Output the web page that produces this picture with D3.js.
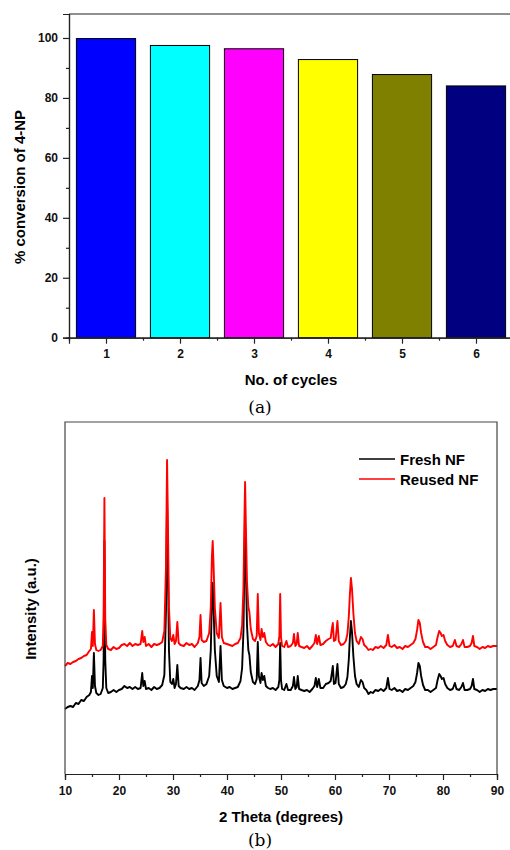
<!DOCTYPE html>
<html>
<head>
<meta charset="utf-8">
<script src="https://cdn.jsdelivr.net/npm/d3@7"></script>
<style>
  body { margin: 0; background: #fff; }
  svg { display: block; font-family: "Liberation Sans", Arial, sans-serif; }
</style>
</head>
<body>
<script>
// (a) recycling test
const cycles = [1, 2, 3, 4, 5, 6];
const conversion = [99.8, 97.5, 96.4, 92.8, 87.8, 84.0];
const barColors = ['#0000ff', '#00ffff', '#ff00ff', '#ffff00', '#808000', '#000080'];
const convTicks = [0, 20, 40, 60, 80, 100];

// (b) XRD patterns
const twoTheta = [
  10.0, 10.5, 11.0, 11.5, 12.0, 12.5, 13.0, 13.5, 14.0, 14.5, 14.8, 15.0, 15.15, 15.35, 15.55, 15.8,
  16.2, 16.6, 17.0, 17.15, 17.3, 17.45, 17.65, 18.0, 18.5, 19.0, 19.5, 20.0, 20.5, 21.0, 21.5, 22.0,
  22.5, 23.0, 23.5, 24.0, 24.3, 24.5, 24.75, 25.0, 25.5, 26.0, 26.5, 27.0, 27.5, 28.0, 28.4, 28.7,
  28.9, 29.05, 29.25, 29.5, 29.8, 30.05, 30.3, 30.55, 30.8, 31.05, 31.4, 32.0, 32.5, 33.0, 33.5, 34.0,
  34.6, 34.9, 35.1, 35.3, 35.7, 36.2, 36.7, 37.0, 37.2, 37.35, 37.5, 37.75, 38.1, 38.5, 38.8, 39.05,
  39.4, 40.0, 40.5, 41.0, 41.5, 42.0, 42.5, 42.8, 43.05, 43.2, 43.35, 43.5, 43.7, 43.95, 44.15, 44.4,
  44.8, 45.2, 45.5, 45.7, 45.9, 46.2, 46.4, 46.65, 46.9, 47.2, 47.6, 48.0, 48.5, 49.0, 49.5, 49.7,
  49.85, 50.0, 50.2, 50.6, 51.0, 51.3, 51.8, 52.2, 52.4, 52.65, 52.9, 53.1, 53.35, 53.8, 54.3, 54.8,
  55.3, 55.8, 56.2, 56.45, 56.7, 57.0, 57.3, 57.8, 58.3, 58.8, 59.2, 59.45, 59.6, 59.8, 60.1, 60.45,
  60.7, 61.1, 61.6, 62.0, 62.3, 62.55, 62.75, 62.95, 63.15, 63.4, 63.7, 64.0, 64.4, 64.8, 65.1, 65.4,
  65.8, 66.2, 66.6, 67.0, 67.5, 68.0, 68.5, 69.0, 69.5, 69.8, 70.1, 70.5, 71.0, 71.5, 72.0, 72.5,
  73.0, 73.5, 74.0, 74.5, 74.9, 75.2, 75.45, 75.7, 75.95, 76.3, 76.7, 77.2, 77.7, 78.2, 78.7, 79.0,
  79.3, 79.55, 79.8, 80.1, 80.4, 80.8, 81.3, 81.8, 82.2, 82.5, 83.0, 83.4, 83.7, 84.0, 84.5, 85.0,
  85.3, 85.55, 85.8, 86.3, 86.8, 87.3, 87.8, 88.3, 88.8, 89.3, 90.0
];
const fresh = [
  650, 670, 680, 670, 710, 700, 740, 730, 770, 790, 820, 980, 860, 1210, 880, 810,
  790, 800, 860, 1140, 2330, 1140, 860, 810, 820, 840, 820, 840, 850, 880, 860, 870,
  850, 870, 850, 860, 1010, 880, 930, 850, 860, 840, 870, 850, 860, 890, 990, 1640,
  2720, 2140, 1240, 920, 900, 950, 860, 900, 1090, 880, 860, 850, 870, 850, 860, 840,
  880, 940, 1160, 910, 880, 900, 980, 1240, 1740, 1910, 1690, 1240, 980, 920, 1280, 940,
  880, 860, 870, 850, 860, 870, 930, 1060, 1440, 2040, 2520, 2040, 1490, 1240, 1190, 1020,
  920, 900, 950, 1320, 980, 910, 1010, 940, 980, 880, 860, 850, 860, 840, 870, 940,
  1310, 940, 850, 840, 900, 840, 840, 880, 970, 850, 870, 980, 850, 840, 830, 840,
  820, 850, 880, 960, 870, 950, 860, 860, 900, 910, 930, 1020, 1080, 900, 910, 1100,
  900, 860, 870, 900, 970, 1140, 1360, 1530, 1420, 1180, 980, 900, 870, 940, 920, 860,
  840, 800, 820, 810, 840, 830, 850, 830, 860, 960, 850, 840, 860, 830, 840, 820,
  850, 840, 860, 880, 920, 1010, 1110, 1080, 980, 890, 840, 840, 820, 840, 860, 940,
  1000, 980, 950, 960, 900, 860, 840, 850, 910, 850, 840, 870, 910, 840, 840, 850,
  880, 950, 850, 840, 820, 840, 830, 850, 840, 850, 850
];
const reused = [
  1080, 1110, 1100, 1120, 1130, 1150, 1160, 1180, 1190, 1230, 1250, 1420, 1280, 1640, 1300, 1240,
  1230, 1240, 1280, 1580, 2760, 1560, 1290, 1250, 1240, 1270, 1250, 1260, 1290, 1300, 1280, 1310,
  1280, 1300, 1290, 1300, 1430, 1320, 1370, 1280, 1300, 1270, 1300, 1290, 1300, 1320, 1430, 2070,
  3140, 2560, 1670, 1360, 1330, 1390, 1300, 1330, 1520, 1310, 1290, 1280, 1310, 1290, 1300, 1270,
  1310, 1370, 1590, 1340, 1320, 1330, 1410, 1670, 2170, 2330, 2110, 1660, 1410, 1360, 1710, 1370,
  1310, 1300, 1290, 1280, 1300, 1310, 1360, 1490, 1870, 2460, 2920, 2470, 1920, 1670, 1620, 1450,
  1350, 1330, 1380, 1800, 1410, 1340, 1450, 1370, 1410, 1320, 1290, 1280, 1300, 1270, 1300, 1380,
  1800, 1370, 1280, 1270, 1330, 1270, 1280, 1310, 1400, 1280, 1300, 1410, 1280, 1270, 1260, 1280,
  1250, 1280, 1310, 1390, 1300, 1380, 1290, 1300, 1330, 1350, 1360, 1460, 1510, 1330, 1340, 1530,
  1330, 1290, 1300, 1330, 1400, 1570, 1790, 1960, 1850, 1610, 1410, 1330, 1300, 1370, 1350, 1290,
  1270, 1240, 1250, 1240, 1270, 1260, 1280, 1260, 1290, 1390, 1280, 1270, 1290, 1260, 1270, 1250,
  1280, 1270, 1290, 1310, 1350, 1440, 1540, 1510, 1410, 1320, 1270, 1270, 1250, 1270, 1290, 1370,
  1430, 1410, 1380, 1390, 1330, 1290, 1270, 1280, 1340, 1280, 1270, 1300, 1340, 1270, 1270, 1280,
  1310, 1380, 1280, 1270, 1250, 1270, 1260, 1280, 1270, 1280, 1280
];
const thetaTicks = [10, 20, 30, 40, 50, 60, 70, 80, 90];
const seriesNames = ['Fresh NF', 'Reused NF'];
const seriesColors = ['#000000', '#ff0000'];

const sans = '"Liberation Sans", Arial, sans-serif';
const serif = '"DejaVu Serif", serif';

const svg = d3.select('body').append('svg').attr('width', 510).attr('height', 850);

// ---------- panel (a) ----------
const xa = d3.scaleLinear().domain([0.5, 6.5]).range([69, 513]);
const ya = d3.scaleLinear().domain([0, 108]).range([337.7, 14]);

svg.selectAll('rect.bar')
  .data(cycles)
  .enter()
  .append('rect')
  .attr('class', 'bar')
  .attr('x', (d) => xa(d - 0.4))
  .attr('y', (d, i) => ya(conversion[i]))
  .attr('width', xa(0.9) - xa(0.1))
  .attr('height', (d, i) => ya(0) - ya(conversion[i]))
  .attr('fill', (d, i) => barColors[i])
  .attr('stroke', '#000')
  .attr('stroke-width', 1);

// frame top
svg.append('line')
  .attr('x1', 69).attr('x2', 513).attr('y1', 14).attr('y2', 14)
  .attr('stroke', '#222').attr('stroke-width', 1.2);

function styleAxis(g) {
  g.select('.domain').attr('stroke', '#222').attr('stroke-width', 1.2);
  g.selectAll('.tick line').attr('stroke', '#222').attr('stroke-width', 1.2);
  g.selectAll('text')
    .style('font-family', sans)
    .attr('font-weight', 'bold')
    .attr('font-size', 12)
    .attr('fill', '#111');
}

svg.append('g')
  .attr('transform', 'translate(69,0)')
  .call(d3.axisLeft(ya).tickValues(d3.range(10, 101, 20)).tickSize(3).tickFormat(''))
  .call(styleAxis);
svg.append('g')
  .attr('transform', 'translate(69,0)')
  .call(d3.axisLeft(ya).tickValues(convTicks).tickSize(6).tickPadding(5))
  .call(styleAxis);

svg.append('g')
  .attr('transform', 'translate(0,337.7)')
  .call(d3.axisBottom(xa).tickValues(d3.range(0.5, 6.6, 1)).tickSize(3).tickFormat(''))
  .call(styleAxis);
svg.append('g')
  .attr('transform', 'translate(0,337.7)')
  .call(d3.axisBottom(xa).tickValues(cycles).tickFormat(d3.format('d')).tickSize(6).tickPadding(6))
  .call(styleAxis);

svg.append('text')
  .attr('transform', 'translate(25,187) rotate(-90)')
  .attr('text-anchor', 'middle')
  .attr('font-weight', 'bold')
  .attr('font-size', 15)
  .text('% conversion of 4-NP');

svg.append('text')
  .attr('x', 291).attr('y', 385)
  .attr('text-anchor', 'middle')
  .attr('font-weight', 'bold')
  .attr('font-size', 15)
  .text('No. of cycles');

svg.append('text')
  .attr('x', 260).attr('y', 413)
  .attr('text-anchor', 'middle')
  .style('font-family', serif)
  .attr('font-size', 17)
  .text('(a)');

// ---------- panel (b) ----------
const xb = d3.scaleLinear().domain([10, 90]).range([65, 497]);
const yb = d3.scaleLinear().domain([0, 3520]).range([774, 422]);

const line = d3.line()
  .x((d) => xb(d[0]))
  .y((d) => yb(d[1]));

[fresh, reused].forEach((vals, k) => {
  svg.append('path')
    .datum(twoTheta.map((t, i) => [t, vals[i]]))
    .attr('fill', 'none')
    .attr('stroke', seriesColors[k])
    .attr('stroke-width', 1.9)
    .attr('stroke-linejoin', 'round')
    .attr('d', line);
});

// frame
svg.append('path')
  .attr('d', 'M65,774V422H497V774')
  .attr('fill', 'none')
  .attr('stroke', '#444')
  .attr('stroke-width', 1.2);

svg.append('g')
  .attr('transform', 'translate(0,774)')
  .call(d3.axisBottom(xb).tickValues(d3.range(15, 90, 10)).tickSize(3).tickFormat(''))
  .call(styleAxis);
svg.append('g')
  .attr('transform', 'translate(0,774)')
  .call(d3.axisBottom(xb).tickValues(thetaTicks).tickSize(6).tickPadding(6))
  .call(styleAxis);

svg.append('text')
  .attr('transform', 'translate(36,609) rotate(-90)')
  .attr('text-anchor', 'middle')
  .attr('font-weight', 'bold')
  .attr('font-size', 15)
  .text('Intensity (a.u.)');

svg.append('text')
  .attr('x', 281).attr('y', 822)
  .attr('text-anchor', 'middle')
  .attr('font-weight', 'bold')
  .attr('font-size', 15)
  .text('2 Theta (degrees)');

svg.append('text')
  .attr('x', 260).attr('y', 846)
  .attr('text-anchor', 'middle')
  .style('font-family', serif)
  .attr('font-size', 17)
  .text('(b)');

// legend
seriesNames.forEach((name, k) => {
  const ly = 459 + k * 20;
  svg.append('line')
    .attr('x1', 359).attr('x2', 395).attr('y1', ly).attr('y2', ly)
    .attr('stroke', seriesColors[k]).attr('stroke-width', 1.6);
  svg.append('text')
    .attr('x', 400).attr('y', ly + 5.5)
    .attr('font-weight', 'bold')
    .attr('font-size', 15)
    .text(name);
});
</script>
</body>
</html>
